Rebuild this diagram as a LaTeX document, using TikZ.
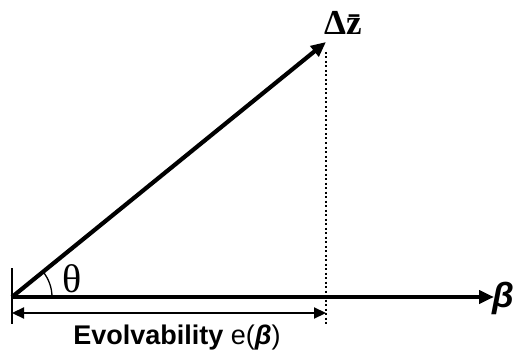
\documentclass[tikz,border=0pt]{standalone}
\usepackage{fontspec}
\setmainfont{Liberation Sans}
\newfontfamily\seriff{Liberation Serif}
\usetikzlibrary{arrows.meta}
\begin{document}
\begin{tikzpicture}[x=1pt,y=-1pt,
  heavy/.style={line width=4.2pt},
  tip/.style={-{Triangle[length=15pt,width=13pt]}},
  thin/.style={line width=1.3pt}]
\useasboundingbox (0,0) rectangle (519,350);
\coordinate (O) at (12,297);
\coordinate (Z) at (326,42);
\coordinate (B) at (494,297);
\coordinate (T1) at (12,268);
\coordinate (T2) at (12,324);
\coordinate (D1) at (326,52);
\coordinate (D2) at (326,324);
\coordinate (E1) at (12,313);
\coordinate (E2) at (326,313);
\draw[heavy,tip] (O) -- (Z);
\draw[heavy,tip] (O) -- (B);
\draw[thin] (T1) -- (T2);
\draw[line width=2pt,dash pattern=on 2pt off 2.5pt] (D1) -- (D2);
\draw[line width=2.2pt,{Triangle[length=12pt,width=11pt]}-{Triangle[length=12pt,width=11pt]}] (E1) -- (E2);
\draw[line width=1.3pt] ([shift={(40,0)}]O) arc[start angle=0,end angle=-39,radius=40];
\node[font=\seriff\fontsize{40}{40}\selectfont,anchor=center,inner sep=0] (th) at (72,279) {θ};
\node[font=\seriff\bfseries\fontsize{35}{35}\selectfont,anchor=base west,inner sep=0] (dz) at (324,35) {Δ\={z}};
\node[font=\bfseries\itshape\fontsize{35}{35}\selectfont,anchor=west,inner sep=0] (beta) at (492,298) {β};
\node[font=\fontsize{27}{27}\selectfont,anchor=base,inner sep=0] (ev) at (177,344) {\textbf{Evolvability} e(\textbf{\textit{β}})};
\end{tikzpicture}
\end{document}
